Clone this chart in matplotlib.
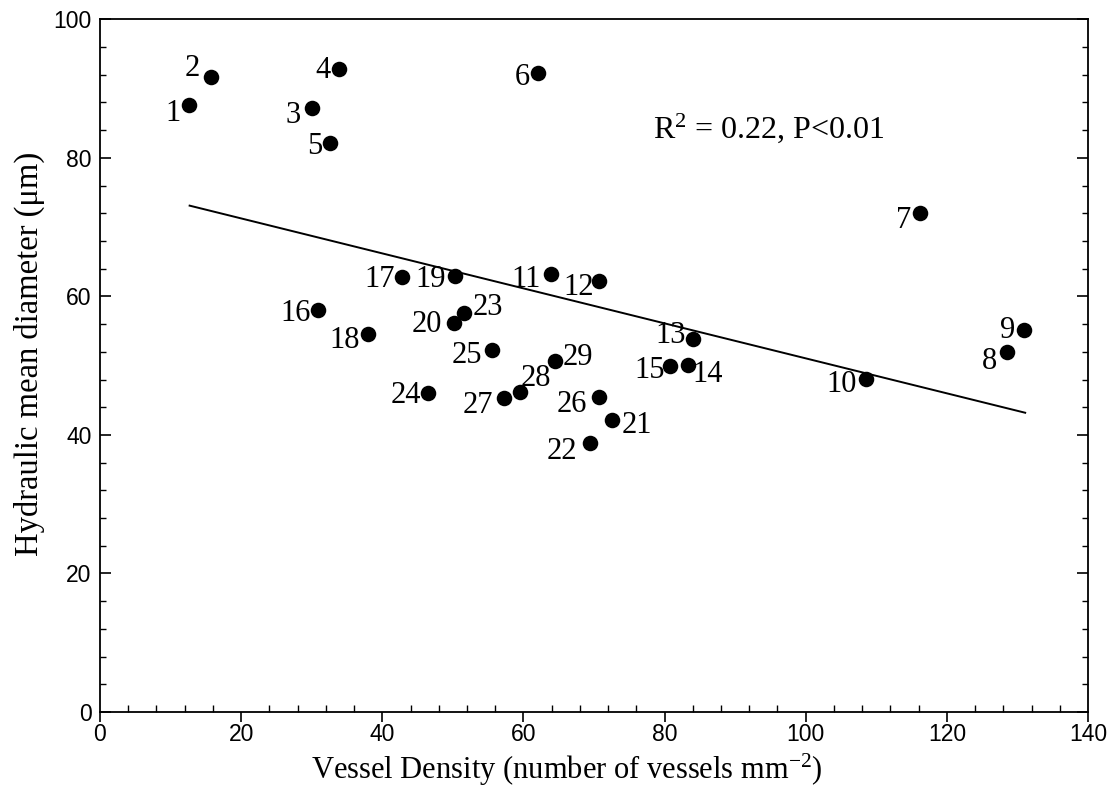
import matplotlib
matplotlib.use("Agg")
import matplotlib.pyplot as plt
from matplotlib.ticker import MultipleLocator

# ---- data ----
point_ids = list(range(1, 30))
vessel_density = [12.6, 15.7, 30.0, 33.8, 32.6, 62.1, 116.2, 128.5, 131.0, 108.5,
                  63.9, 70.7, 84.0, 83.3, 80.7, 30.9, 42.8, 38.0, 50.3, 50.1,
                  72.6, 69.4, 51.6, 46.5, 55.5, 70.7, 57.3, 59.5, 64.5]
hydraulic_diameter = [87.7, 91.6, 87.2, 92.8, 82.1, 92.2, 72.0, 51.9, 55.2, 48.1,
                      63.2, 62.2, 53.9, 50.1, 50.0, 58.0, 62.8, 54.6, 63.0, 56.2,
                      42.1, 38.9, 57.6, 46.0, 52.2, 45.5, 45.4, 46.2, 50.7]
fit_x = [12.7, 131.1]
fit_y = [73.1, 43.2]
x_ticks = [0, 20, 40, 60, 80, 100, 120, 140]
y_ticks = [0, 20, 40, 60, 80, 100]
stats_text = "R$^{2}$ = 0.22, P<0.01"

# label offsets (pixels, x right / y down) relative to each dot
label_offsets = {
    1: (-16, 9), 2: (-19, -9), 3: (-19, 8), 4: (-16, 1), 5: (-15, 3),
    6: (-16, 4), 7: (-16, 7), 8: (-17, 9), 9: (-17, 1), 10: (-24, 6),
    11: (-25, 5), 12: (-20, 6), 13: (-22, -3), 14: (20, 10), 15: (-20, 5),
    16: (-23, 3), 17: (-22, 3), 18: (-24, 7), 19: (-24, 4), 20: (-27, 2),
    21: (25, 5), 22: (-28, 9), 23: (24, -6), 24: (-22, 2), 25: (-25, 5),
    26: (-27, 8), 27: (-26, 8), 28: (16, -13), 29: (23, -3),
}

serif = ["Liberation Serif", "DejaVu Serif"]
sans = ["Liberation Sans", "DejaVu Sans"]
plt.rcParams["mathtext.fontset"] = "custom"
plt.rcParams["mathtext.rm"] = "Liberation Serif"
plt.rcParams["mathtext.it"] = "Liberation Serif:italic"
plt.rcParams["mathtext.bf"] = "Liberation Serif:bold"

fig = plt.figure(figsize=(11.2, 8.1), dpi=100)
ax = fig.add_axes([100/1120, 1 - 712/810, 988/1120, (712 - 19.3)/810])

ax.scatter(vessel_density, hydraulic_diameter, s=125, color="black", zorder=3,
           linewidths=0)
ax.plot(fit_x, fit_y, color="black", lw=1.4, zorder=2)

for pid, xv, yv in zip(point_ids, vessel_density, hydraulic_diameter):
    dx, dy = label_offsets[pid]
    ax.annotate(str(pid), (xv, yv), xytext=(dx, -dy), textcoords="offset pixels",
                ha="center", va="center", fontsize=22, family=serif)

ax.text(78.4, 82.9, stats_text, fontsize=23, family=serif, ha="left", va="baseline")

ax.set_xlim(0, 140)
ax.set_ylim(0, 100)
ax.set_xticks(x_ticks)
ax.set_yticks(y_ticks)
ax.xaxis.set_minor_locator(MultipleLocator(4))
ax.yaxis.set_minor_locator(MultipleLocator(4))

for lab in ax.get_xticklabels() + ax.get_yticklabels():
    lab.set_family(sans)
    lab.set_fontsize(16.5)

ax.tick_params(axis="x", which="major", direction="out", length=7, width=1.2,
               pad=1, top=False)
ax.tick_params(axis="x", which="minor", direction="in", length=5, width=1.0, top=False)
ax.tick_params(axis="y", which="major", direction="in", length=8, width=1.2,
               left=True, right=True, pad=6)
ax.tick_params(axis="y", which="minor", direction="in", length=4.5, width=1.0,
               left=True, right=True)

for sp in ax.spines.values():
    sp.set_linewidth(1.3)

fig.text(567/1120, 1 - 770/810, "Vessel Density (number of vessels mm$^{-2}$)",
         ha="center", va="center", fontsize=22, family=serif)
fig.text(29/1120, 1 - 354/810, "Hydraulic mean diameter (\u03bcm)",
         ha="center", va="center", rotation=90, fontsize=23.5, family=serif)

fig.savefig("out.png", dpi=100)
